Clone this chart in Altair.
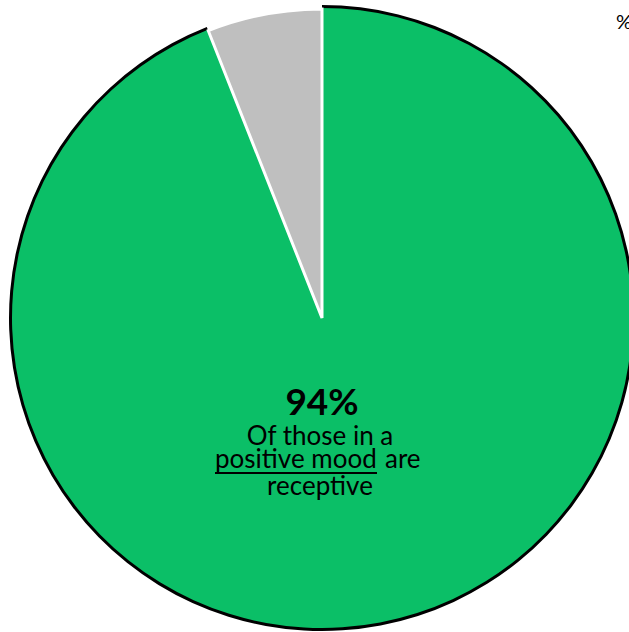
import altair as alt
import pandas as pd

# Data
categories = ["Receptive", "Not receptive"]
values = [94, 6]
colors = ["#0BBF67", "#BFBFBF"]
order = [0, 1]

headline = ["94%"]
line1 = ["Of those in a"]
line2_under = ["positive mood"]
line2_rest = ["are"]
line3 = ["receptive"]
corner_text = ["%"]

df = pd.DataFrame({"category": categories, "value": values, "order": order})

CX, CY, R = 322, 318, 313

base = alt.Chart(df).transform_stack(
    stack="value", groupby=[], as_=["v0", "v1"], sort=[alt.SortField("order")]
)

theta = alt.Theta("v0:Q", scale=alt.Scale(domain=[0, 100]))
color = alt.Color("category:N", scale=alt.Scale(domain=categories, range=colors), legend=None)

border = base.transform_filter(alt.datum.category == categories[0]).mark_arc(
    fill="black"
).encode(theta=theta, theta2="v1:Q", x=alt.value(CX), y=alt.value(CY), radius=alt.value(R))

green = base.transform_filter(alt.datum.category == categories[0]).mark_arc().encode(
    theta=theta, theta2="v1:Q", color=color,
    x=alt.value(CX), y=alt.value(CY), radius=alt.value(R - 3)
)

grey = base.transform_filter(alt.datum.category == categories[1]).mark_arc(
    stroke="white", strokeWidth=3
).encode(
    theta=theta, theta2="v1:Q", color=color,
    x=alt.value(CX), y=alt.value(CY), radius=alt.value(R - 4)
)


def txt(lst, x, y, size=26, align="center", weight="normal"):
    return alt.Chart(pd.DataFrame({"t": lst})).mark_text(
        font="Lato", fontSize=size, fontWeight=weight, color="black",
        align=align, baseline="alphabetic"
    ).encode(text="t:N", x=alt.value(x), y=alt.value(y))


head = txt(headline, CX, 415, size=37, weight="bold")
l1 = txt(line1, 320, 445)
l2a = txt(line2_under, 215, 468, align="left")
l2b = txt(line2_rest, 385, 468, align="left")
l3 = txt(line3, 320, 495)

underline = alt.Chart(pd.DataFrame({"t": ["u"]})).mark_rule(color="black", strokeWidth=2).encode(
    x=alt.value(215), x2=alt.value(377), y=alt.value(473)
)

corner = txt(corner_text, 616, 29, size=20, align="left")

chart = alt.layer(border, green, grey, head, l1, l2a, l2b, l3, underline, corner).properties(
    width=629, height=632, padding=0, autosize=alt.AutoSizeParams(type="none"),
    background="white"
).configure_view(strokeWidth=0)

chart.save("out.html", embed_options={"renderer": "svg", "actions": False})
